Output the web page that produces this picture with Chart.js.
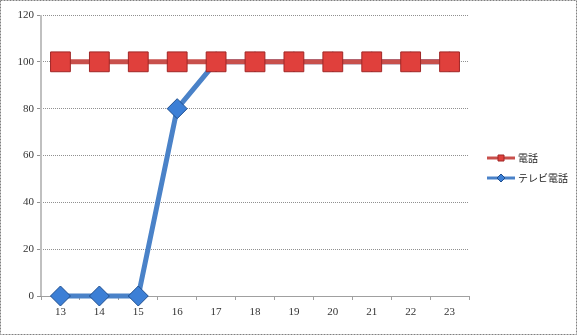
<!DOCTYPE html>
<html>
<head>
<meta charset="utf-8">
<script src="https://cdn.jsdelivr.net/npm/chart.js@4"></script>
<style>
  html, body { margin: 0; padding: 0; background: #fff; }
  #wrap { width: 577px; height: 335px; position: relative; }
</style>
</head>
<body>
<div id="wrap"><canvas id="chart"></canvas></div>
<script>
// Chart data
const categories = ['13', '14', '15', '16', '17', '18', '19', '20', '21', '22', '23'];
const phoneLabel = '電話';
const phoneValues = [100, 100, 100, 100, 100, 100, 100, 100, 100, 100, 100];
const tvPhoneLabel = 'テレビ電話';
const tvPhoneValues = [0, 0, 0, 80, 100, 100, 100, 100, 100, 100, 100];
const yTicks = [0, 20, 40, 60, 80, 100, 120];

const numFont = { family: "'Liberation Serif', 'DejaVu Serif', serif", size: 11 };

// Solid y axis line drawn under the series
const yAxisLine = {
    id: 'yAxisLine',
    beforeDatasetsDraw(chart) {
        const ctx = chart.ctx;
        const area = chart.chartArea;
        ctx.save();
        ctx.strokeStyle = '#c0c0c0';
        ctx.lineWidth = 2;
        ctx.beginPath();
        ctx.moveTo(area.left, area.top);
        ctx.lineTo(area.left, area.bottom);
        ctx.stroke();
        ctx.restore();
    }
};

// Outer dotted frame + legend with line and marker samples
const frameLegend = {
    id: 'frameLegend',
    afterDraw(chart) {
        const ctx = chart.ctx;
        ctx.save();
        ctx.strokeStyle = '#808080';
        ctx.lineWidth = 1;
        ctx.setLineDash([2, 1]);
        ctx.strokeRect(0.5, 0.5, 576, 334);
        ctx.setLineDash([]);

        chart.data.datasets.forEach((ds, i) => {
            const y = 158 + i * 20;
            ctx.strokeStyle = ds.borderColor;
            ctx.lineWidth = 3;
            ctx.beginPath();
            ctx.moveTo(487, y);
            ctx.lineTo(515, y);
            ctx.stroke();
            ctx.fillStyle = ds.pointBackgroundColor;
            ctx.strokeStyle = ds.pointBorderColor;
            ctx.lineWidth = 1;
            ctx.beginPath();
            if (ds.pointStyle === 'rect') {
                ctx.rect(498, y - 3, 6, 6);
            } else {
                ctx.moveTo(501, y - 4);
                ctx.lineTo(505, y);
                ctx.lineTo(501, y + 4);
                ctx.lineTo(497, y);
                ctx.closePath();
            }
            ctx.fill();
            ctx.stroke();
            ctx.fillStyle = '#222';
            ctx.font = "10px 'Noto Sans CJK JP', sans-serif";
            ctx.textBaseline = 'middle';
            ctx.fillText(ds.label, 518, y);
        });
        ctx.restore();
    }
};

const chart = new Chart(document.getElementById('chart'), {
    type: 'line',
    data: {
        labels: categories,
        datasets: [
            {
                label: phoneLabel,
                data: phoneValues,
                borderColor: '#c8504c',
                borderWidth: 5,
                pointStyle: 'rect',
                pointRadius: 14,
                pointHoverRadius: 14,
                pointBackgroundColor: '#e0403c',
                pointBorderColor: '#a02626',
                pointBorderWidth: 1,
                tension: 0,
                clip: false
            },
            {
                label: tvPhoneLabel,
                data: tvPhoneValues,
                borderColor: '#4a82c8',
                borderWidth: 5,
                pointStyle: 'rectRot',
                pointRadius: 10,
                pointHoverRadius: 10,
                pointBackgroundColor: '#3c7fd6',
                pointBorderColor: '#1f4f8f',
                pointBorderWidth: 1,
                tension: 0,
                clip: false
            }
        ]
    },
    options: {
        responsive: true,
        maintainAspectRatio: false,
        animation: false,
        layout: { padding: { left: 0, right: 108, top: 15, bottom: 0 } },
        plugins: {
            legend: { display: false },
            tooltip: { enabled: false }
        },
        scales: {
            x: {
                offset: true,
                grid: {
                    offset: true,
                    drawOnChartArea: false,
                    drawTicks: true,
                    tickLength: 4,
                    color: '#a0a0a0'
                },
                border: { color: '#a0a0a0', dash: [1, 1], width: 1 },
                ticks: { color: '#333', font: numFont, padding: 6, maxRotation: 0 },
                afterFit(scale) { scale.height = 39; }
            },
            y: {
                min: 0,
                max: 120,
                afterBuildTicks(scale) { scale.ticks = yTicks.map(v => ({ value: v })); },
                grid: {
                    color: '#909090',
                    tickLength: 4,
                    drawTicks: true
                },
                border: { display: false, dash: [1, 1] },
                ticks: { color: '#333', font: numFont, padding: 3 },
                afterFit(scale) { scale.width = 41; }
            }
        }
    },
    plugins: [yAxisLine, frameLegend]
});
</script>
</body>
</html>
